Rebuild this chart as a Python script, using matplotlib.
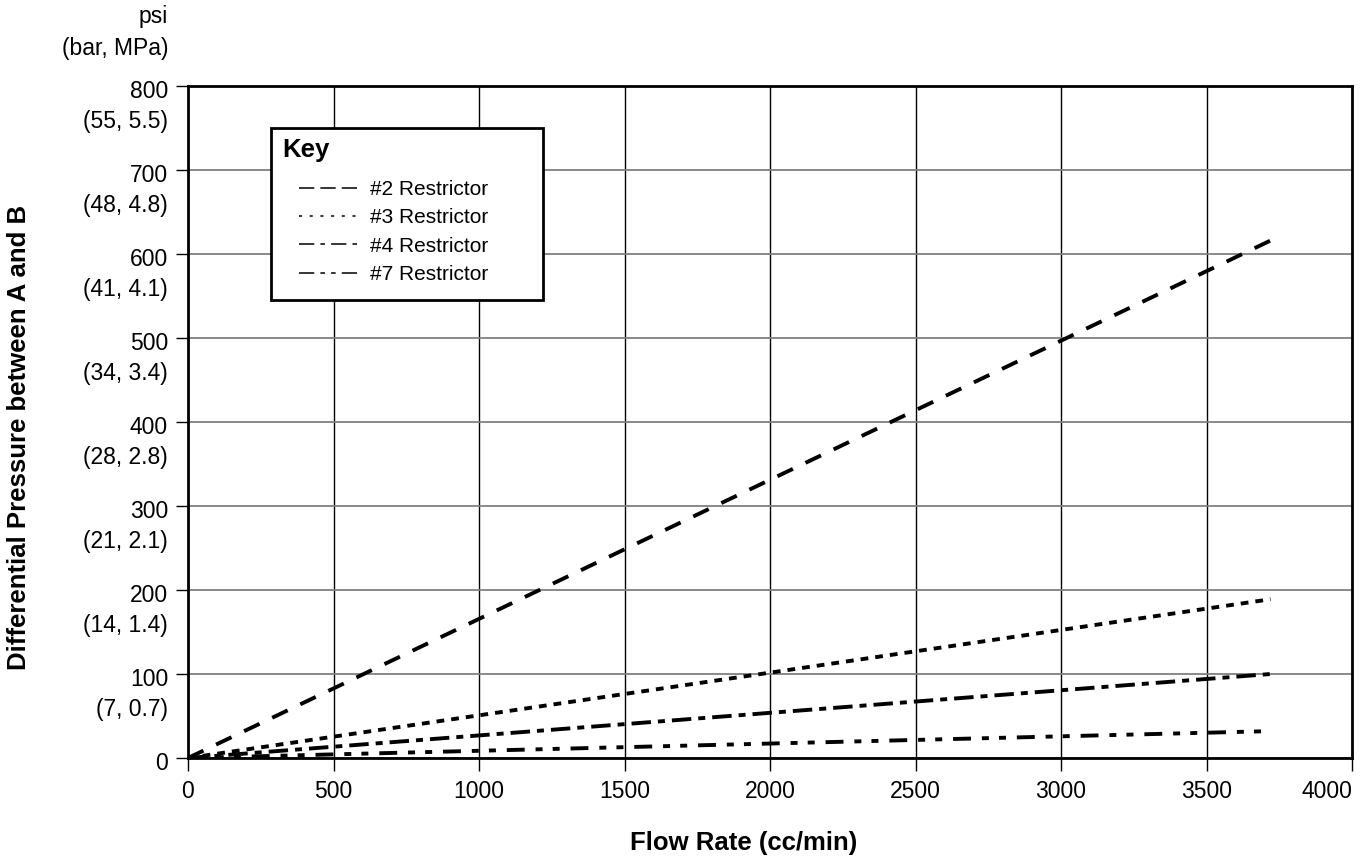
import numpy as np
import matplotlib.pyplot as plt
from matplotlib.patches import Rectangle

plt.rcParams['font.family'] = ['Liberation Sans', 'DejaVu Sans']

# flow rate (cc/min) at the line ends, differential pressure (psi)
flow = [0, 3720]
p_2 = [0, 616]
p_3 = [0, 189]
p_4 = [0, 100]
p_7 = [0, 32]
labels = ['#2 Restrictor', '#3 Restrictor', '#4 Restrictor', '#7 Restrictor']

y_ticks = [0, 100, 200, 300, 400, 500, 600, 700, 800]
y_metric = ['', '(7, 0.7)', '(14, 1.4)', '(21, 2.1)', '(28, 2.8)',
            '(34, 3.4)', '(41, 4.1)', '(48, 4.8)', '(55, 5.5)']
x_ticks = [0, 500, 1000, 1500, 2000, 2500, 3000, 3500, 4000]

W, H = 1367, 863
fig = plt.figure(figsize=(W / 100, H / 100), dpi=100)
ax = fig.add_axes([188 / W, 1 - 758 / H, 1164 / W, 672 / H])

styles = [(0, (4.4, 3.6)), (0, (2, 1.8)), (0, (5, 1.8, 1.8, 1.8)),
          (0, (4.6, 2.8, 1.8, 2.6, 1.8, 2.8))]
key_styles = [(0, (10, 4)), (0, (2, 5)), (0, (10, 4, 3, 4)), (0, (10, 4, 3, 4, 3, 4))]
for p, lab, ls in zip([p_2, p_3, p_4, p_7], labels, styles):
    ax.plot(flow, p, color='black', lw=2.8, linestyle=ls, label=lab,
            solid_capstyle='butt', dash_capstyle='butt', zorder=3)

ax.set_xticks(x_ticks)
ax.set_yticks(y_ticks)
ax.set_yticklabels([])
ax.tick_params(axis='both', labelsize=16.5, length=9, width=1, direction='out')
ax.tick_params(axis='x', pad=7)
ax.get_xticklabels()[-1].set_ha('right')

ax.grid(axis='y', color='#808080', lw=1.3)
ax.grid(axis='x', color='black', lw=1)
for s in ax.spines.values():
    s.set_linewidth(2)
    s.set_color('black')

# y tick labels: psi on the line, bar/MPa below
for v, t in zip(y_ticks, y_metric):
    ax.annotate(str(v), xy=(0, v), xycoords=('axes fraction', 'data'),
                xytext=(-14.4, -4.3), textcoords='offset points',
                ha='right', va='center', fontsize=16.5)
    if t:
        ax.annotate(t, xy=(0, v), xycoords=('axes fraction', 'data'),
                    xytext=(-14.4, -25.9), textcoords='offset points',
                    ha='right', va='center', fontsize=16.5)

fig.text(168 / W, 1 - 17 / H, 'psi', ha='right', va='center', fontsize=16.5)
fig.text(168 / W, 1 - 48 / H, '(bar, MPa)', ha='right', va='center', fontsize=16.5)

fig.text(744 / W, 1 - 843 / H, 'Flow Rate (cc/min)', ha='center', va='center',
         fontsize=18.5, fontweight='bold')
fig.text(19 / W, 1 - 437 / H, 'Differential Pressure between A and B', rotation=90,
         ha='center', va='center', fontsize=18.5, fontweight='bold')

# key box
ax.add_patch(Rectangle((271 / W, 1 - 300 / H), 272 / W, 172 / H, transform=fig.transFigure,
                       facecolor='white', edgecolor='black', lw=2, zorder=4, clip_on=False))
ax.text(282 / W, 1 - 150 / H, 'Key', transform=fig.transFigure, ha='left', va='center',
        fontsize=18.5, fontweight='bold', zorder=6)
leg = ax.legend(loc='upper left', bbox_to_anchor=(299 / W, 1 - 180 / H),
                bbox_transform=fig.transFigure, frameon=False, fontsize=15,
                handlelength=2.8, handletextpad=0.6, borderpad=0, borderaxespad=0,
                labelspacing=0.45)
leg.set_zorder(6)
for h, ls in zip(leg.get_lines(), key_styles):
    h.set_linewidth(1.1)
    h.set_linestyle(ls)

ax.set_xlim(0, 4000)
ax.set_ylim(0, 800)

fig.savefig('out.png', dpi=100)
